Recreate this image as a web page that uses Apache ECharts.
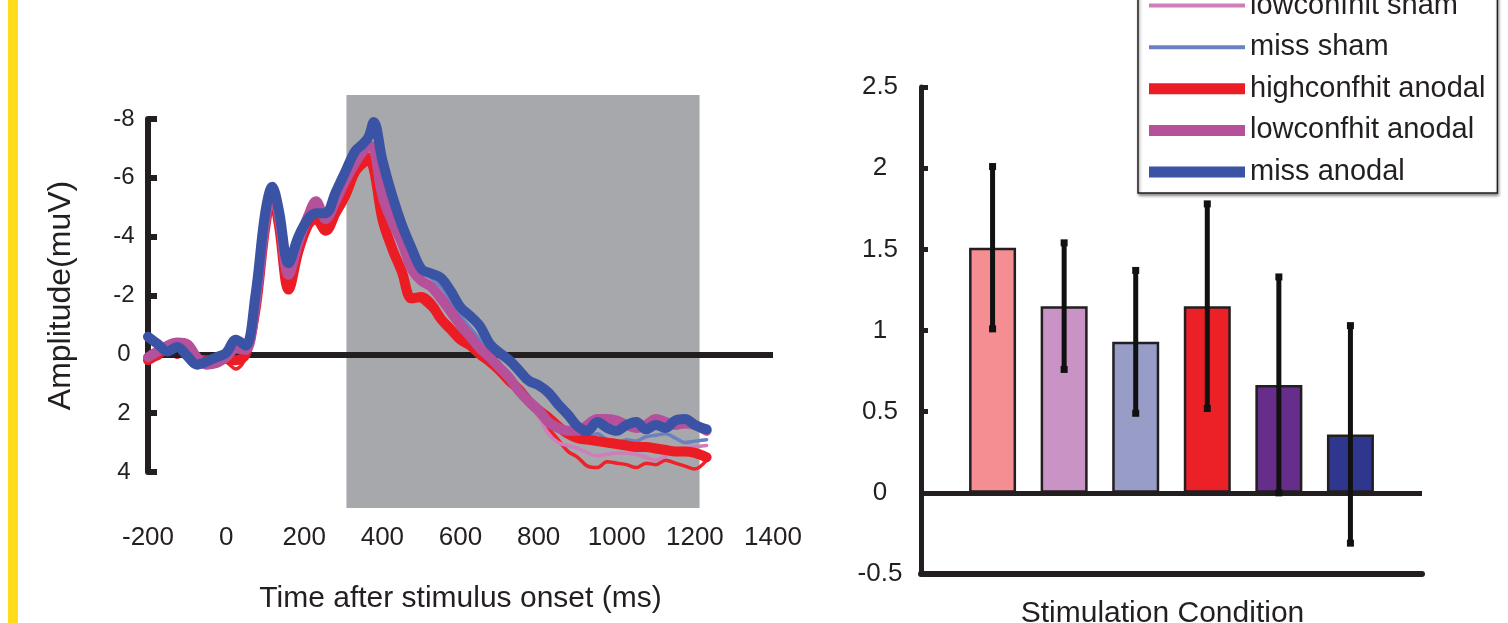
<!DOCTYPE html>
<html>
<head>
<meta charset="utf-8">
<script src="https://cdn.jsdelivr.net/npm/echarts@6/dist/echarts.min.js"></script>
<style>
  html, body { margin: 0; padding: 0; background: #fff; }
  #chart { width: 1508px; height: 623px; }
</style>
</head>
<body>
<div id="chart"></div>
<script>
// ---- ERP waveforms (amplitude in muV, time in ms after stimulus onset) ----
const times = [
  -200, -175, -150, -125, -100, -75, -50, -25, 0, 25, 50, 75, 100,
  118, 135, 160, 185, 210, 230, 255, 280, 305, 330, 350, 365, 378,
  400, 425, 450, 475, 500, 525, 550, 575, 600, 625, 650, 675, 700, 725, 750,
  775, 800, 825, 850, 875, 900, 925, 950, 975, 1000, 1025, 1050, 1075, 1100,
  1125, 1150, 1175, 1200, 1230
];

const highconfhitSham = [
  0.1, 0.15, -0.1, 0.1, -0.2, 0.2, 0.3, 0.1, 0.25, 0.5, 0.1, -1.6, -4.4,
  -5.3, -4.5, -2.3, -3.6, -4.4, -4.7, -4.4, -4.9, -5.6, -6.3, -6.6, -6.8, -6.5,
  -4.9, -3.8, -2.9, -2.0, -1.8, -1.5, -1.2, -0.8, -0.45, -0.2, 0.05, 0.3, 0.6, 0.95, 1.3,
  1.7, 2.1, 2.5, 2.9, 3.3, 3.5, 3.8, 3.85, 3.65, 3.7, 3.75, 3.85, 3.7, 3.75,
  3.6, 3.7, 3.8, 3.9, 3.6
];
const lowconfhitSham = [
  0.0, -0.2, -0.2, -0.35, -0.3, 0.0, 0.3, 0.2, 0.0, -0.1, -0.1, -1.8, -4.6,
  -5.5, -4.6, -2.6, -3.8, -4.7, -5.1, -4.6, -5.2, -5.9, -6.5, -6.8, -7.0, -6.9,
  -5.3, -4.3, -3.6, -2.8, -2.4, -2.2, -1.8, -1.4, -0.95, -0.55, -0.15, 0.2, 0.55, 0.9, 1.3,
  1.7, 2.1, 2.7, 3.0, 3.1, 3.2, 3.35, 3.45, 3.4, 3.35, 3.35, 3.4, 3.5, 3.6,
  3.45, 3.3, 3.2, 3.15, 3.1
];
const missSham = [
  -0.5, -0.3, -0.1, -0.2, 0.1, 0.3, 0.2, 0.0, -0.15, -0.45, -0.3, -2.0, -4.7,
  -5.6, -4.8, -3.0, -3.9, -4.5, -4.8, -4.7, -5.3, -6.0, -6.8, -7.1, -7.3, -7.6,
  -6.4, -5.2, -4.3, -3.4, -2.8, -2.6, -2.3, -1.8, -1.3, -0.9, -0.5, 0.0, 0.5, 0.9, 1.2,
  1.5, 1.9, 2.3, 2.6, 2.75, 2.8, 2.85, 2.7, 2.9, 3.0, 2.9, 2.95, 2.8, 2.75,
  2.7, 2.85, 3.0, 2.95, 2.9
];
const highconfhitAnodal = [
  0.2, 0.0, -0.2, -0.3, -0.2, 0.15, 0.2, 0.2, 0.15, 0.2, 0.0, -1.5, -4.3,
  -5.4, -4.4, -2.2, -3.5, -4.4, -4.6, -4.2, -4.8, -5.4, -6.2, -6.5, -6.6, -6.3,
  -4.6, -3.6, -2.8, -1.9, -1.95, -1.7, -1.2, -0.85, -0.5, -0.3, 0.0, 0.25, 0.55, 0.9, 1.2,
  1.6, 1.9, 2.15, 2.45, 2.7, 2.85, 2.9, 2.95, 3.0, 3.05, 3.1, 3.15, 3.15, 3.2,
  3.25, 3.3, 3.3, 3.35, 3.5
];
const lowconfhitAnodal = [
  0.1, -0.1, -0.3, -0.4, -0.35, 0.1, 0.35, 0.3, 0.1, -0.2, -0.15, -1.7, -4.5,
  -5.5, -4.7, -2.7, -3.8, -4.7, -5.2, -4.6, -5.2, -5.9, -6.5, -6.9, -7.1, -7.0,
  -5.4, -4.5, -3.8, -2.9, -2.5, -2.3, -1.9, -1.45, -1.0, -0.6, -0.2, 0.1, 0.45, 0.8, 1.25,
  1.6, 1.9, 2.3, 2.5, 2.6, 2.6, 2.4, 2.2, 2.2, 2.25, 2.4, 2.5, 2.4, 2.2,
  2.3, 2.4, 2.35, 2.4, 2.6
];
const missAnodal = [
  -0.6, -0.35, -0.1, -0.25, 0.05, 0.35, 0.25, 0.1, -0.05, -0.5, -0.3, -2.0, -4.8,
  -5.7, -4.9, -3.1, -4.0, -4.6, -4.8, -4.8, -5.5, -6.2, -6.9, -7.15, -7.4, -7.9,
  -6.6, -5.4, -4.4, -3.6, -2.9, -2.75, -2.6, -2.15, -1.6, -1.3, -0.95, -0.35, -0.05, 0.2, 0.55,
  0.9, 1.05, 1.3, 1.7, 2.05, 2.45, 2.6, 2.3, 2.5, 2.6, 2.4, 2.3, 2.55, 2.4,
  2.5, 2.25, 2.2, 2.4, 2.55
];

// Analysis window shaded behind the waveforms (ms)
const windowStart = 308;
const windowEnd = 1212;

// ---- Mean amplitude per stimulation condition (with error bars) ----
const conditions = [
  'highconfhit sham', 'lowconfhit sham', 'miss sham',
  'highconfhit anodal', 'lowconfhit anodal', 'miss anodal'
];
const barMeans = [1.51, 1.15, 0.93, 1.15, 0.665, 0.36];
const barErrors = [0.5, 0.39, 0.44, 0.63, 0.665, 0.67];

// ---- Styling ----
const FONT = '"Liberation Sans", Arial, Helvetica, sans-serif';
const INK = '#231F20';
const waveColors = ['#EE2229', '#CF7DBB', '#6B80C0', '#EC1C24', '#B5509B', '#3A53A4'];
const waveWidths = [3.5, 3.5, 3.5, 10, 10, 10];
const barColors = ['#F48E92', '#C993C5', '#989DC8', '#EC2027', '#672D8A', '#2E368E'];

const waveData = [highconfhitSham, lowconfhitSham, missSham,
                  highconfhitAnodal, lowconfhitAnodal, missAnodal];

const thinIcon = 'path://M0,0H96V4H0Z';
const thickIcon = 'path://M0,0H96V11H0Z';

const chart = echarts.init(document.getElementById('chart'), null, { renderer: 'canvas' });

const waveSeries = conditions.map((name, k) => ({
  name: name,
  type: 'line',
  xAxisIndex: 1,
  yAxisIndex: 1,
  data: times.map((t, i) => [t, waveData[k][i]]),
  symbol: 'none',
  smooth: 0.35,
  z: 3 + k,
  itemStyle: { color: waveColors[k] },
  lineStyle: { color: waveColors[k], width: waveWidths[k], cap: 'round', join: 'round' },
  emphasis: { disabled: true }
}));

const option = {
  animation: false,
  backgroundColor: '#ffffff',
  textStyle: { fontFamily: FONT, color: INK },
  graphic: [{
    type: 'rect',
    left: 8, top: 0,
    shape: { width: 10, height: 623 },
    style: { fill: '#FFDD1B' }
  }],
  legend: {
    orient: 'vertical',
    left: 1138,
    top: -61,
    padding: [10, 12, 6, 11],
    itemWidth: 96,
    itemHeight: 11,
    itemGap: 11.6,
    backgroundColor: '#ffffff',
    borderColor: INK,
    borderWidth: 1.5,
    borderRadius: 0,
    shadowColor: 'rgba(0,0,0,0.45)',
    shadowBlur: 3,
    shadowOffsetX: 1,
    shadowOffsetY: 2,
    itemStyle: { borderWidth: 0 },
    textStyle: { fontFamily: FONT, fontSize: 29, color: INK, lineHeight: 30 },
    selectedMode: false,
    data: conditions.map((name, k) => ({
      name: name,
      icon: waveWidths[k] > 5 ? thickIcon : thinIcon
    }))
  },
  grid: [
    // shaded window behind the waveforms
    { left: 148, right: 735, top: 95, bottom: 115, outerBoundsMode: 'none' },
    // waveform plot
    { left: 148, right: 735, top: 119, bottom: 151, outerBoundsMode: 'none' },
    // bar plot
    { left: 921, right: 86, top: 87, bottom: 49, outerBoundsMode: 'none' }
  ],
  xAxis: [
    { gridIndex: 0, type: 'value', min: -200, max: 1400, show: false },
    {
      gridIndex: 1, type: 'value', min: -200, max: 1400, interval: 200,
      axisLine: { show: false },
      axisTick: { show: false },
      splitLine: { show: false },
      axisLabel: { fontFamily: FONT, fontSize: 26, color: INK, margin: 53,
                   showMinLabel: true, showMaxLabel: true,
                   formatter: v => String(v) },
      name: 'Time after stimulus onset (ms)',
      nameLocation: 'middle',
      nameGap: 112,
      nameTextStyle: { fontFamily: FONT, fontSize: 30, color: INK }
    },
    {
      gridIndex: 2, type: 'value', min: 0, max: 7,
      axisLine: { show: true, onZero: false, lineStyle: { color: INK, width: 6 } },
      axisTick: { show: false },
      axisLabel: { show: false },
      splitLine: { show: false },
      name: 'Stimulation Condition',
      nameLocation: 'middle',
      nameGap: 25,
      nameTextStyle: { fontFamily: FONT, fontSize: 30, color: INK, padding: [0, 18, 0, 0] }
    }
  ],
  yAxis: [
    { gridIndex: 0, type: 'value', min: 0, max: 1, show: false },
    {
      gridIndex: 1, type: 'value', min: -8, max: 4, interval: 2, inverse: true,
      axisLine: { show: true, onZero: false, lineStyle: { color: INK, width: 6 } },
      axisTick: { show: true, inside: true, length: 9, lineStyle: { color: INK, width: 6 } },
      splitLine: { show: false },
      axisLabel: { fontFamily: FONT, fontSize: 24, color: INK, align: 'center', margin: 24 },
      name: 'Amplitude(muV)',
      nameLocation: 'middle',
      nameRotate: 90,
      nameGap: 71,
      nameTextStyle: { fontFamily: FONT, fontSize: 32, color: INK }
    },
    {
      gridIndex: 2, type: 'value', min: -0.5, max: 2.5, interval: 0.5,
      axisLine: { show: true, onZero: false, lineStyle: { color: INK, width: 5 } },
      axisTick: { show: true, inside: true, length: 7, lineStyle: { color: INK, width: 5 } },
      splitLine: { show: false },
      axisLabel: { fontFamily: FONT, fontSize: 26, color: INK, align: 'center', margin: 41 }
    }
  ],
  series: [
    {
      name: 'analysis window',
      type: 'line',
      xAxisIndex: 0, yAxisIndex: 0,
      data: [],
      z: 1,
      silent: true,
      markArea: {
        silent: true,
        itemStyle: { color: '#A7A8AB' },
        data: [[{ xAxis: windowStart }, { xAxis: windowEnd }]]
      }
    },
    {
      name: 'baseline',
      type: 'line',
      xAxisIndex: 1, yAxisIndex: 1,
      data: [],
      z: 2,
      silent: true,
      markLine: {
        silent: true,
        symbol: 'none',
        label: { show: false },
        lineStyle: { color: INK, width: 6, type: 'solid' },
        data: [{ yAxis: 0 }]
      }
    },
    ...waveSeries,
    {
      name: 'condition means',
      type: 'bar',
      xAxisIndex: 2, yAxisIndex: 2,
      barWidth: 47,
      z: 2,
      data: barMeans.map((m, i) => ({
        value: [i + 1, m],
        itemStyle: { color: barColors[i] }
      })),
      itemStyle: { borderColor: INK, borderWidth: 2.5 },
      emphasis: { disabled: true },
      markLine: {
        silent: true,
        symbol: 'none',
        label: { show: false },
        lineStyle: { color: INK, width: 5, type: 'solid' },
        data: [{ yAxis: 0 }]
      }
    },
    {
      name: 'error bars',
      type: 'custom',
      xAxisIndex: 2, yAxisIndex: 2,
      z: 5,
      silent: true,
      data: barMeans.map((m, i) => [i + 1, m - barErrors[i], m + barErrors[i]]),
      encode: { x: 0, y: [1, 2] },
      renderItem: function (params, api) {
        const x = api.value(0);
        const lo = api.coord([x, api.value(1)]);
        const hi = api.coord([x, api.value(2)]);
        const cap = 7;
        return {
          type: 'group',
          children: [
            { type: 'line', shape: { x1: lo[0], y1: lo[1], x2: hi[0], y2: hi[1] },
              style: { stroke: '#111', lineWidth: 5 } },
            { type: 'rect', shape: { x: hi[0] - cap / 2, y: hi[1] - cap / 2, width: cap, height: cap },
              style: { fill: '#111' } },
            { type: 'rect', shape: { x: lo[0] - cap / 2, y: lo[1] - cap / 2, width: cap, height: cap },
              style: { fill: '#111' } }
          ]
        };
      }
    }
  ]
};

chart.setOption(option);
</script>
</body>
</html>
